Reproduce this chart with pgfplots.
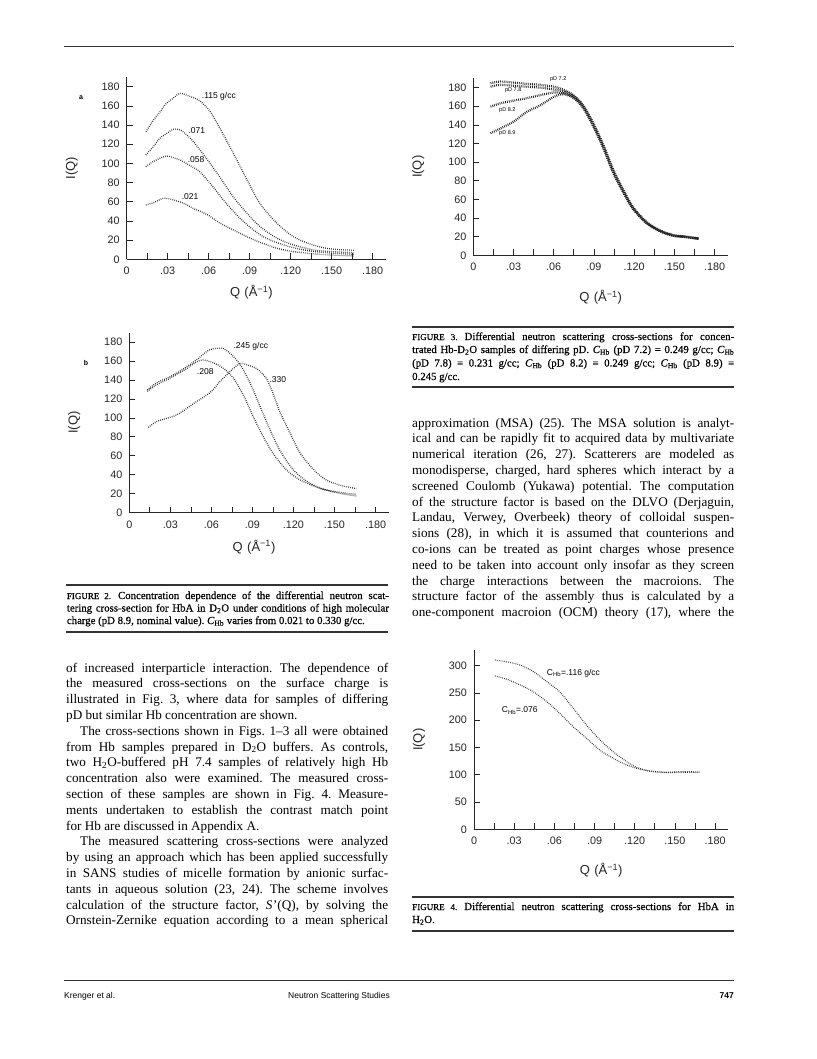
\documentclass[border=0pt]{standalone}
\usepackage{fontspec}
\setmainfont{Liberation Serif}
\setsansfont{Liberation Sans}
\newfontfamily\capfont{Liberation Serif}[FakeBold=0.5]
\usepackage{pgfplots}
\pgfplotsset{compat=1.18}
\frenchspacing

\pgfplotsset{
  pagefig/.style={
    scale only axis,
    axis lines=left,
    axis line style={-, line width=0.7pt, black!85},
    xmin=0, xmax=0.19, ymin=0,
    anchor=south west,
    tick align=inside,
    major tick length=6pt, minor tick length=6pt,
    tick style={line width=0.7pt, black!85},
    xtick={0,0.03,0.06,0.09,0.12,0.15,0.18},
    xticklabels={0,.03,.06,.09,.120,.150,.180},
    minor xtick={0.015,0.045,0.075,0.105,0.135,0.165},
    scaled ticks=false,
    /pgf/number format/assume math mode=true,
    tick label style={font=\sffamily\fontsize{10.8}{12}\selectfont, black!85},
    xticklabel style={yshift=-4.5pt},
    yticklabel style={xshift=-3.5pt},
    ylabel={I(Q)},
    xlabel={Q\,\,(Å\textsuperscript{−1})},
    label style={font=\sffamily\fontsize{13}{14}\selectfont, black!85},
    ylabel style={at={(axis description cs:0,0.5)}, anchor=center, rotate=0, yshift=55pt},
    clip=false,
  },
  dotA/.style={black!85, line width=1.3pt, dash pattern=on 0.7pt off 1.3pt, smooth, tension=0.5},
  dotB/.style={black!85, line width=2.2pt, dash pattern=on 0.8pt off 1.1pt, smooth, tension=0.5},
  dotC/.style={black!85, line width=1.1pt, dash pattern=on 0.7pt off 1.2pt, smooth, tension=0.5},
}

\newcommand{\bodyfont}{\fontsize{13.2}{14}\selectfont}
\newcommand{\capf}{\capfont\fontsize{10.8}{12}\selectfont}
\newcommand{\FIG}[1]{{\fontsize{9}{10}\selectfont FIGURE #1.}\hspace{7pt}}
\newcommand{\Chb}{\textit{C}\textsubscript{Hb}}
\newcommand{\BJ}[3]{\node[anchor=base west,inner sep=0pt] at (#1pt,-#2pt) {\bodyfont\makebox[322pt][s]{#3}};}
\newcommand{\BL}[3]{\node[anchor=base west,inner sep=0pt] at (#1pt,-#2pt) {\bodyfont #3};}
\newcommand{\CJ}[3]{\node[anchor=base west,inner sep=0pt] at (#1pt,-#2pt) {\capf\makebox[322pt][s]{#3}};}
\newcommand{\CL}[3]{\node[anchor=base west,inner sep=0pt] at (#1pt,-#2pt) {\capf #3};}
\newcommand{\annot}{\sffamily\fontsize{8.5}{9}\selectfont}

\begin{document}
\begin{tikzpicture}
\fill[white] (0pt,0pt) rectangle (816pt,-1059pt);
\draw[line width=1pt, black!80] (64pt,-47pt) -- (734pt,-47pt);

% ---------------- Figure 2a ----------------
\begin{axis}[pagefig, at={(126.7pt,-259.3pt)}, width=259.7pt, height=182.2pt,
  ymax=190, ytick={0,20,...,180},
  xlabel style={at={(axis description cs:0.48,0)}, anchor=center, yshift=-33pt}]
\addplot[dotA] coordinates {(0.0141,133)(0.0195,145)(0.024,153)(0.029,162.6)(0.034,168)(0.039,173)(0.046,170)(0.0537,165)(0.062,152)(0.0756,117)(0.088,83)(0.0976,58)(0.11,37.5)(0.122,23.6)(0.134,16)(0.146,11.5)(0.156,10)(0.166,9.4)};
\addplot[dotA] coordinates {(0.014,108.8)(0.0195,117.5)(0.024,126)(0.029,131)(0.034,135.5)(0.039,135)(0.044,129.6)(0.0488,122.7)(0.0585,105)(0.068,86)(0.078,65)(0.088,48)(0.0976,34)(0.11,22)(0.122,15)(0.137,9.7)(0.150,8)(0.166,7)};
\addplot[dotA] coordinates {(0.014,96.6)(0.0195,102)(0.024,105)(0.029,107.7)(0.034,106)(0.039,103.6)(0.046,98)(0.0537,91)(0.063,75.8)(0.073,58)(0.083,42.7)(0.0927,30.6)(0.102,22)(0.117,14)(0.134,8.7)(0.150,6.5)(0.166,5.2)};
\addplot[dotA] coordinates {(0.014,56.6)(0.0195,59)(0.027,63.6)(0.034,62)(0.0415,58.4)(0.0488,53)(0.0585,47)(0.068,38)(0.078,30.6)(0.088,23.6)(0.0976,17.7)(0.11,11.5)(0.122,8)(0.141,5.2)(0.166,3.5)};
\node[anchor=west, inner sep=0pt, font=\annot] at (axis cs:0.0549,169.6) {.115 g/cc};
\node[anchor=west, inner sep=0pt, font=\annot] at (axis cs:0.0451,133.8) {.071};
\node[anchor=west, inner sep=0pt, font=\annot] at (axis cs:0.0446,103.6) {.058};
\node[anchor=west, inner sep=0pt, font=\annot] at (axis cs:0.0402,65.3) {.021};
\end{axis}
\node[font=\sffamily\bfseries\fontsize{7}{8}\selectfont] at (81pt,-98pt) {a};

% ---------------- Figure 2b ----------------
\begin{axis}[pagefig, at={(129.3pt,-512.7pt)}, width=259.9pt, height=180.2pt,
  ymax=190, ytick={0,20,...,180},
  xlabel style={at={(axis description cs:0.48,0)}, anchor=center, yshift=-34pt}]
\addplot[dotA] coordinates {(0.0132,129.4)(0.02,137)(0.0273,141.7)(0.0346,147)(0.042,154)(0.049,161)(0.0566,170)(0.0615,173)(0.0688,173)(0.0737,168)(0.0785,161)(0.0834,150.5)(0.0895,133)(0.0956,112)(0.103,87)(0.110,66)(0.12,45)(0.132,31)(0.144,24)(0.159,20.4)(0.166,19.5)};
\addplot[dotA] coordinates {(0.0132,128)(0.02,135)(0.0273,140)(0.0346,146)(0.042,152)(0.049,159)(0.054,161)(0.0615,158)(0.069,152)(0.076,142)(0.0834,124)(0.0907,101)(0.098,80)(0.105,62.6)(0.115,45)(0.125,34.5)(0.1395,25.7)(0.154,20.4)(0.166,17.6)};
\addplot[dotA] coordinates {(0.0139,90)(0.02,96)(0.0273,99.5)(0.0346,103)(0.042,110)(0.049,117)(0.0566,124)(0.0615,130)(0.066,138)(0.071,145)(0.076,152)(0.081,157.5)(0.0859,156)(0.093,152)(0.1,142)(0.105,126)(0.110,106.5)(0.1176,83.7)(0.125,62.6)(0.135,45)(0.144,34.5)(0.154,29)(0.166,25.5)};
\node[anchor=west, inner sep=0pt, font=\annot] at (axis cs:0.0761,175) {.245 g/cc};
\node[anchor=west, inner sep=0pt, font=\annot] at (axis cs:0.0493,148.7) {.208};
\node[anchor=west, inner sep=0pt, font=\annot] at (axis cs:0.1024,140) {.330};
\end{axis}
\node[font=\sffamily\bfseries\fontsize{7}{8}\selectfont] at (86pt,-362.7pt) {b};

% ---------------- Figure 3 ----------------
\begin{axis}[pagefig, at={(473.3pt,-255.3pt)}, width=254.7pt, height=177pt,
  ymax=190, ytick={0,20,...,180},
  xlabel style={at={(axis description cs:0.5,0)}, anchor=center, yshift=-42pt}]
\addplot[dotB] coordinates {(0.0129,184.7)(0.02,186.5)(0.03,185.4)(0.04,184)(0.05,183)(0.06,181)(0.067,178)(0.0746,172)(0.082,161)(0.0896,141.7)(0.097,118.5)(0.1045,91.6)(0.112,70)(0.119,52)(0.129,36)(0.139,27)(0.149,21.8)(0.159,20)(0.168,18.3)};
\addplot[dotB] coordinates {(0.0129,181)(0.02,183)(0.03,182)(0.04,181)(0.05,180)(0.06,178)(0.067,176)(0.0746,171)(0.082,160)(0.0896,140)(0.097,117)(0.1045,90)(0.112,69)(0.119,51)(0.129,35.5)(0.139,26.5)(0.149,21.5)(0.159,19.8)(0.168,18)};
\addplot[dotB] coordinates {(0.0129,159.6)(0.02,163)(0.03,166)(0.04,168.6)(0.05,172)(0.06,174.7)(0.067,174)(0.0746,170)(0.082,159)(0.0896,139)(0.097,116)(0.1045,89)(0.112,68)(0.119,50.5)(0.129,35)(0.139,26)(0.149,21)(0.159,19.5)(0.168,17.8)};
\addplot[dotB] coordinates {(0.0129,131)(0.02,136)(0.03,143.5)(0.04,154)(0.05,161)(0.06,170)(0.067,173)(0.0746,169)(0.082,158)(0.0896,138)(0.097,115)(0.1045,88)(0.112,67)(0.119,50)(0.129,34.5)(0.139,26)(0.149,21)(0.159,19.5)(0.168,17.5)};
\node[anchor=west, inner sep=0pt, font=\sffamily\fontsize{5.5}{6}\selectfont] at (axis cs:0.0572,189) {pD 7.2};
\node[anchor=west, inner sep=0pt, font=\sffamily\fontsize{5.5}{6}\selectfont] at (axis cs:0.0236,176.8) {pD 7.8};
\node[anchor=west, inner sep=0pt, font=\sffamily\fontsize{5.5}{6}\selectfont] at (axis cs:0.0192,155.3) {pD 8.2};
\node[anchor=west, inner sep=0pt, font=\sffamily\fontsize{5.5}{6}\selectfont] at (axis cs:0.0192,131) {pD 8.9};
\end{axis}

% ---------------- Figure 4 ----------------
\begin{axis}[pagefig, at={(474pt,-829.3pt)}, width=254.4pt, height=179pt,
  ymax=328, ytick={0,50,...,300},
  xlabel style={at={(axis description cs:0.5,0)}, anchor=center, yshift=-41pt}]
\addplot[dotC] coordinates {(0.0157,310)(0.0244,307)(0.0344,301)(0.0443,289)(0.0543,270.7)(0.064,252)(0.074,222)(0.084,191)(0.094,164)(0.104,142)(0.114,124)(0.1215,113.6)(0.131,107)(0.144,104.5)(0.156,105.7)(0.169,105)};
\addplot[dotC] coordinates {(0.0157,281)(0.0244,275)(0.0344,264.6)(0.0443,252)(0.0543,234)(0.064,212.6)(0.074,188)(0.084,167)(0.094,145)(0.104,130)(0.114,118)(0.124,110)(0.134,105.7)(0.144,104)(0.156,104.5)(0.169,104)};
\node[anchor=west, inner sep=0pt, font=\annot] at (axis cs:0.0543,286) {C\textsubscript{Hb}=.116 g/cc};
\node[anchor=west, inner sep=0pt, font=\annot] at (axis cs:0.0207,217.5) {C\textsubscript{Hb}=.076};
\end{axis}

% ---------------- Caption Figure 2 ----------------
\draw[line width=1.2pt, black!80] (66pt,-585pt) -- (388pt,-585pt);
\CJ{66.7}{599}{\FIG{2}Concentration dependence of the differential neutron scat-}
\CJ{66.7}{611.5}{tering cross-section for HbA in D\textsubscript{2}O under conditions of high molecular}
\CL{66.7}{624}{charge (pD 8.9, nominal value). \Chb{} varies from 0.021 to 0.330 g/cc.}
\draw[line width=1.2pt, black!80] (66pt,-632pt) -- (388pt,-632pt);

% ---------------- Caption Figure 3 ----------------
\draw[line width=1.2pt, black!80] (412pt,-327pt) -- (734pt,-327pt);
\CJ{412}{340}{\FIG{3}Differential neutron scattering cross-sections for concen-}
\CJ{412}{353}{trated Hb-D\textsubscript{2}O samples of differing pD. \Chb{} (pD 7.2) = 0.249 g/cc; \Chb}
\CJ{412}{366.5}{(pD 7.8) = 0.231 g/cc; \Chb{} (pD 8.2) = 0.249 g/cc; \Chb{} (pD 8.9) =}
\CL{412}{380}{0.245 g/cc.}
\draw[line width=1.2pt, black!80] (412pt,-387pt) -- (734pt,-387pt);

% ---------------- Caption Figure 4 ----------------
\draw[line width=1.2pt, black!80] (412pt,-897pt) -- (734pt,-897pt);
\CJ{412}{910}{\FIG{4}Differential neutron scattering cross-sections for HbA in}
\CL{412}{923}{H\textsubscript{2}O.}
\draw[line width=1.2pt, black!80] (412pt,-931pt) -- (734pt,-931pt);

% ---------------- Right column text ----------------
\BJ{412}{427}{approximation (MSA) (25). The MSA solution is analyt-}
\BJ{412}{442.8}{ical and can be rapidly fit to acquired data by multivariate}
\BJ{412}{458.6}{numerical iteration (26, 27). Scatterers are modeled as}
\BJ{412}{474.4}{monodisperse, charged, hard spheres which interact by a}
\BJ{412}{490.2}{screened Coulomb (Yukawa) potential. The computation}
\BJ{412}{506}{of the structure factor is based on the DLVO (Derjaguin,}
\BJ{412}{521.8}{Landau, Verwey, Overbeek) theory of colloidal suspen-}
\BJ{412}{537.6}{sions (28), in which it is assumed that counterions and}
\BJ{412}{553.4}{co-ions can be treated as point charges whose presence}
\BJ{412}{569.2}{need to be taken into account only insofar as they screen}
\BJ{412}{585}{the charge interactions between the macroions. The}
\BJ{412}{600.8}{structure factor of the assembly thus is calculated by a}
\BJ{412}{616.6}{one-component macroion (OCM) theory (17), where the}

% ---------------- Left column text ----------------
\BJ{66}{672}{of increased interparticle interaction. The dependence of}
\BJ{66}{687.8}{the measured cross-sections on the surface charge is}
\BJ{66}{703.6}{illustrated in Fig. 3, where data for samples of differing}
\BL{66}{719.4}{pD but similar Hb concentration are shown.}
\BJ{66}{735.2}{\hspace*{14pt}The cross-sections shown in Figs. 1–3 all were obtained}
\BJ{66}{751}{from Hb samples prepared in D\textsubscript{2}O buffers. As controls,}
\BJ{66}{766.8}{two H\textsubscript{2}O-buffered pH 7.4 samples of relatively high Hb}
\BJ{66}{782.6}{concentration also were examined. The measured cross-}
\BJ{66}{798.4}{section of these samples are shown in Fig. 4. Measure-}
\BJ{66}{814.2}{ments undertaken to establish the contrast match point}
\BL{66}{830}{for Hb are discussed in Appendix A.}
\BJ{66}{845.8}{\hspace*{14pt}The measured scattering cross-sections were analyzed}
\BJ{66}{861.6}{by using an approach which has been applied successfully}
\BJ{66}{877.4}{in SANS studies of micelle formation by anionic surfac-}
\BJ{66}{893.2}{tants in aqueous solution (23, 24). The scheme involves}
\BJ{66}{909}{calculation of the structure factor, \textit{S}\kern0.6pt'(Q), by solving the}
\BJ{66}{924.8}{Ornstein-Zernike equation according to a mean spherical}

% ---------------- Footer ----------------
\draw[line width=1pt, black!80] (64pt,-980pt) -- (734pt,-980pt);
\node[anchor=base west, inner sep=0pt, font=\sffamily\fontsize{8.5}{10}\selectfont] at (64pt,-998pt) {Krenger et al.};
\node[anchor=base, inner sep=0pt, font=\sffamily\fontsize{8.5}{10}\selectfont] at (339pt,-998pt) {Neutron Scattering Studies};
\node[anchor=base east, inner sep=0pt, font=\sffamily\bfseries\fontsize{8.5}{10}\selectfont] at (734pt,-998pt) {747};
\end{tikzpicture}
\end{document}
